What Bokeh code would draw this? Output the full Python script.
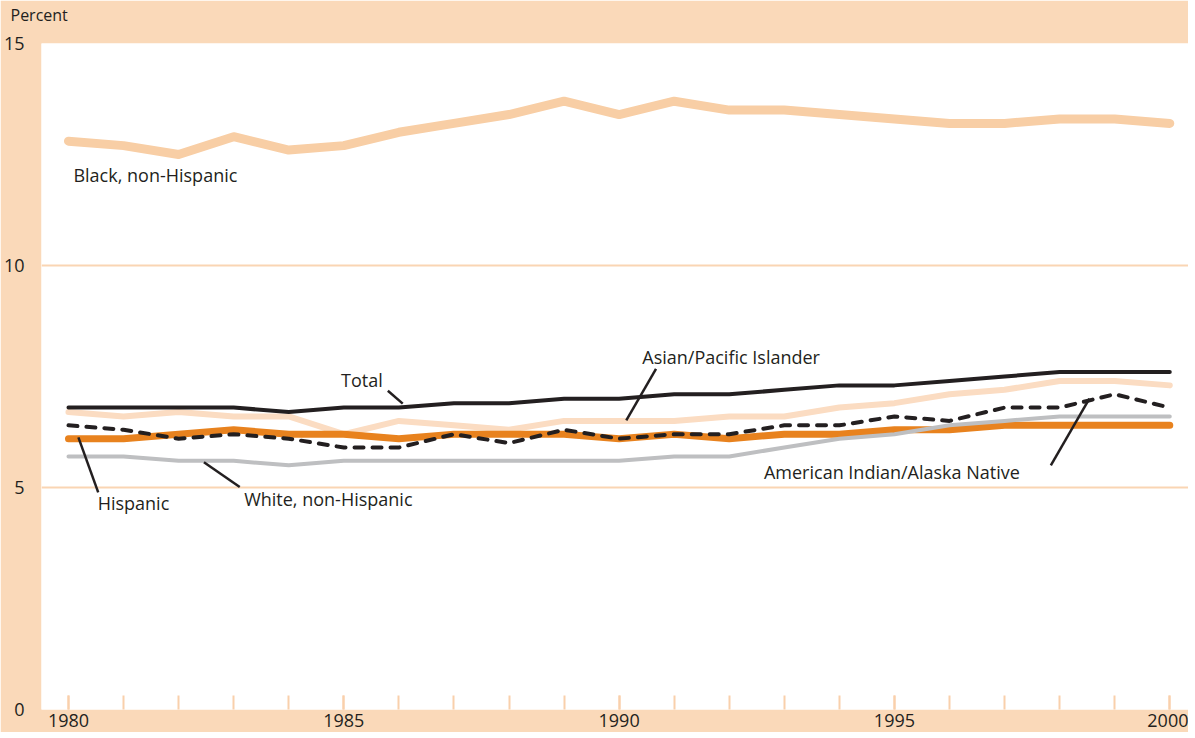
from bokeh.plotting import figure
from bokeh.models import Range1d, SingleIntervalTicker, FixedTicker, Title
from bokeh.embed import file_html
from bokeh.resources import INLINE
from bokeh.core.properties import value

# ---- data ----
years = list(range(1980, 2001))
black = [12.8, 12.7, 12.5, 12.9, 12.6, 12.7, 13.0, 13.2, 13.4, 13.7, 13.4,
         13.7, 13.5, 13.5, 13.4, 13.3, 13.2, 13.2, 13.3, 13.3, 13.2]
total = [6.8, 6.8, 6.8, 6.8, 6.7, 6.8, 6.8, 6.9, 6.9, 7.0, 7.0,
         7.1, 7.1, 7.2, 7.3, 7.3, 7.4, 7.5, 7.6, 7.6, 7.6]
asian = [6.7, 6.6, 6.7, 6.6, 6.6, 6.2, 6.5, 6.4, 6.3, 6.5, 6.5,
         6.5, 6.6, 6.6, 6.8, 6.9, 7.1, 7.2, 7.4, 7.4, 7.3]
hispanic = [6.1, 6.1, 6.2, 6.3, 6.2, 6.2, 6.1, 6.2, 6.2, 6.2, 6.1,
            6.2, 6.1, 6.2, 6.2, 6.3, 6.3, 6.4, 6.4, 6.4, 6.4]
aian = [6.4, 6.3, 6.1, 6.2, 6.1, 5.9, 5.9, 6.2, 6.0, 6.3, 6.1,
        6.2, 6.2, 6.4, 6.4, 6.6, 6.5, 6.8, 6.8, 7.1, 6.8]
white = [5.7, 5.7, 5.6, 5.6, 5.5, 5.6, 5.6, 5.6, 5.6, 5.6, 5.6,
         5.7, 5.7, 5.9, 6.1, 6.2, 6.4, 6.5, 6.6, 6.6, 6.6]

y_ticks = [0, 5, 10, 15]
grid_ticks = [5, 10]

label_text = ["Black, non-Hispanic", "Total", "Asian/Pacific Islander",
              "Hispanic", "White, non-Hispanic", "American Indian/Alaska Native"]
label_x = [1980.09, 1984.95, 1990.42, 1980.53, 1983.19, 1992.63]
label_y = [12.03, 7.41, 7.93, 4.64, 4.73, 5.36]

leader_x0 = [1985.80, 1990.67, 1980.18, 1982.46, 1998.54]
leader_y0 = [7.18, 7.67, 6.13, 5.57, 7.00]
leader_x1 = [1986.07, 1990.13, 1980.54, 1983.11, 1997.84]
leader_y1 = [6.89, 6.51, 4.89, 5.01, 5.50]

# ---- styles ----
BG = "#FAD9B9"
TXT = "#231F20"
FONT = "Open Sans"

p = figure(output_backend="svg", toolbar_location=None,
           frame_width=1147, frame_height=666,
           min_border_left=32, min_border_right=0,
           min_border_top=43, min_border_bottom=23,
           x_range=Range1d(1979.51, 2000.34), y_range=Range1d(0, 15),
           background_fill_color="white", border_fill_color=BG)
p.outline_line_color = None

p.title.text = "Percent"
p.title.align = "left"
p.title.offset = -31
p.title.standoff = 0
p.title.text_font = FONT
p.title.text_font_size = "16px"
p.title.text_font_style = "normal"
p.title.text_color = TXT

# spacer between the unit title and the plot area
p.add_layout(Title(text=" ", text_font_size="2px", standoff=14), "above")

# axes
p.xaxis.ticker = SingleIntervalTicker(interval=5, num_minor_ticks=5)
p.xaxis.axis_line_color = None
p.xaxis.major_tick_in = 14
p.xaxis.major_tick_out = 0
p.xaxis.minor_tick_in = 14
p.xaxis.minor_tick_out = 0
p.xaxis.major_tick_line_color = "#F9D0AB"
p.xaxis.minor_tick_line_color = "#F9D0AB"
p.xaxis.major_tick_line_width = 2
p.xaxis.minor_tick_line_width = 2
p.xaxis.major_label_standoff = 4
p.xaxis.major_label_text_font = FONT
p.xaxis.major_label_text_font_size = "18px"
p.xaxis.major_label_text_color = TXT

p.yaxis.ticker = FixedTicker(ticks=y_ticks)
p.yaxis.axis_line_color = None
p.yaxis.major_tick_line_color = None
p.yaxis.minor_tick_line_color = None
p.yaxis.major_label_standoff = 11
p.yaxis.major_label_text_font = FONT
p.yaxis.major_label_text_font_size = "18px"
p.yaxis.major_label_text_color = TXT

p.xgrid.visible = False
p.ygrid.ticker = FixedTicker(ticks=grid_ticks)
p.ygrid.grid_line_color = "#FAD5B3"
p.ygrid.grid_line_width = 2

# lines
p.line(years, black, line_color="#F8CEA5", line_width=9, line_join="round", line_cap="round")
p.line(years, asian, line_color="#FBDCC2", line_width=6, line_join="round", line_cap="round")
p.line(years, hispanic, line_color="#E8821E", line_width=7, line_join="round", line_cap="round")
p.line(years, white, line_color="#BEBFC1", line_width=4, line_join="round", line_cap="round")
p.line(years, aian, line_color=TXT, line_width=4, line_dash="9 9", line_join="round", line_cap="round")
p.line(years, total, line_color=TXT, line_width=4, line_join="round", line_cap="round")

# leaders and labels
p.segment(x0=leader_x0, y0=leader_y0, x1=leader_x1, y1=leader_y1,
          line_color=TXT, line_width=2.5)
p.text(x=label_x, y=label_y, text=label_text, text_font=value(FONT),
       text_font_size="18px", text_baseline="middle", text_align="left",
       text_color=TXT)

open("out.html", "w").write(file_html(p, INLINE))
